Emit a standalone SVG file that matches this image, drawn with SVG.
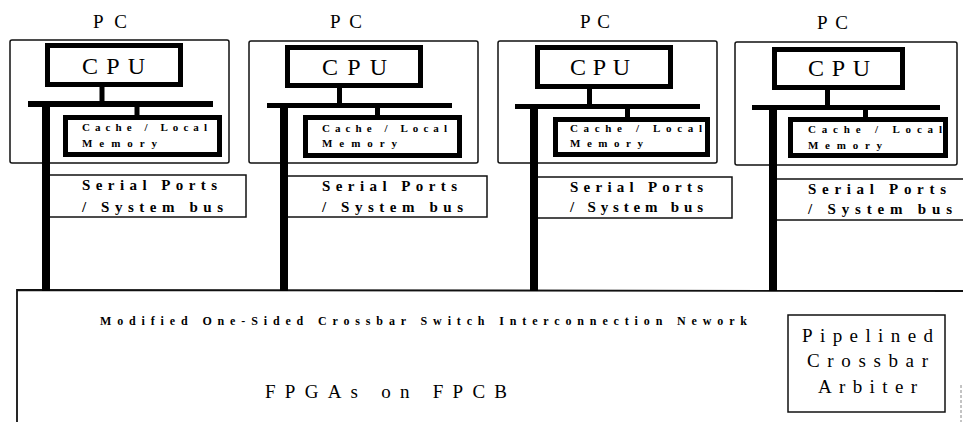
<svg xmlns="http://www.w3.org/2000/svg" width="963" height="422" viewBox="0 0 963 422">
  <style>
    .pcbox { fill: none; stroke: #111; stroke-width: 1.5; }
    .thick { fill: #fff; stroke: #000; stroke-width: 5; }
    .port { fill: #fff; stroke: #111; stroke-width: 1.5; }
    .bar { fill: #000; }
    .pc { font-family: "Liberation Serif", "Times New Roman", serif; font-size: 19px; fill: #000; }
    .cpu { font-family: "Liberation Serif", "Times New Roman", serif; font-size: 24px; fill: #000; }
    .mem { font-family: "Liberation Serif", "Times New Roman", serif; font-size: 11px; font-weight: bold; fill: #000; }
    .ser { font-family: "Liberation Serif", "Times New Roman", serif; font-size: 15px; font-weight: bold; fill: #000; }
    .net { font-family: "Liberation Serif", "Times New Roman", serif; font-size: 12px; font-weight: bold; fill: #000; }
    .big { font-family: "Liberation Serif", "Times New Roman", serif; font-size: 19px; fill: #000; }
  </style>
  <rect width="963" height="422" fill="#fff"/>

  <!-- FPGA board with the crossbar network -->
  <g id="fpga-board">
    <path d="M17,422 V290 L963,291" fill="none" stroke="#111" stroke-width="1.8"/>
    <line x1="961" y1="385" x2="961" y2="422" stroke="#888" stroke-width="1" stroke-dasharray="3,2"/>
    <text class="net" x="100" y="325" textLength="647" lengthAdjust="spacing">Modified One-Sided Crossbar Switch Interconnection Nework</text>
    <text class="big" x="265" y="398" textLength="242" lengthAdjust="spacing">FPGAs on FPCB</text>
  </g>

  <g id="arbiter">
    <rect x="788" y="315" width="157" height="97" fill="#fff" stroke="#111" stroke-width="1.5"/>
    <text class="big" x="802" y="342" textLength="131" lengthAdjust="spacing">Pipelined</text>
    <text class="big" x="807" y="367" textLength="121" lengthAdjust="spacing">Crossbar</text>
    <text class="big" x="818" y="393" textLength="99" lengthAdjust="spacing">Arbiter</text>
  </g>

  <!-- PC 1 -->
  <g id="pc1">
    <text class="pc" x="93" y="28" textLength="34" lengthAdjust="spacing">PC</text>
    <rect class="pcbox" x="10" y="40" width="219" height="123" rx="2"/>
    <rect class="thick" x="47.5" y="45.5" width="133" height="39"/>
    <text class="cpu" x="82" y="74" textLength="63" lengthAdjust="spacing">CPU</text>
    <rect class="thick" x="65.5" y="117.5" width="154" height="37"/>
    <text class="mem" x="82" y="131" textLength="125" lengthAdjust="spacing">Cache / Local</text>
    <text class="mem" x="82" y="147" textLength="75" lengthAdjust="spacing">Memory</text>
    <rect class="port" x="47" y="175" width="199" height="42"/>
    <text class="ser" x="82" y="190" textLength="135" lengthAdjust="spacing">Serial Ports</text>
    <text class="ser" x="82" y="212" textLength="141" lengthAdjust="spacing">/ System bus</text>
  </g>

  <!-- PC 2 -->
  <g id="pc2">
    <text class="pc" x="330" y="28" textLength="32" lengthAdjust="spacing">PC</text>
    <rect class="pcbox" x="249" y="41" width="229" height="122" rx="2"/>
    <rect class="thick" x="287.5" y="47.5" width="133" height="38"/>
    <text class="cpu" x="322" y="75" textLength="65" lengthAdjust="spacing">CPU</text>
    <rect class="thick" x="305.5" y="117.5" width="154" height="38"/>
    <text class="mem" x="322" y="132" textLength="125" lengthAdjust="spacing">Cache / Local</text>
    <text class="mem" x="322" y="147" textLength="75" lengthAdjust="spacing">Memory</text>
    <rect class="port" x="285" y="176" width="202" height="41"/>
    <text class="ser" x="322" y="191" textLength="135" lengthAdjust="spacing">Serial Ports</text>
    <text class="ser" x="322" y="212" textLength="141" lengthAdjust="spacing">/ System bus</text>
  </g>

  <!-- PC 3 -->
  <g id="pc3">
    <text class="pc" x="580" y="28" textLength="30" lengthAdjust="spacing">PC</text>
    <rect class="pcbox" x="498" y="41" width="219" height="122" rx="2"/>
    <rect class="thick" x="537.5" y="47.5" width="133" height="39"/>
    <text class="cpu" x="570" y="75" textLength="60" lengthAdjust="spacing">CPU</text>
    <rect class="thick" x="555.5" y="119.5" width="152" height="35"/>
    <text class="mem" x="570" y="132" textLength="132" lengthAdjust="spacing">Cache / Local</text>
    <text class="mem" x="570" y="147" textLength="73" lengthAdjust="spacing">Memory</text>
    <rect class="port" x="533" y="177" width="199" height="41"/>
    <text class="ser" x="570" y="192" textLength="133" lengthAdjust="spacing">Serial Ports</text>
    <text class="ser" x="570" y="212" textLength="133" lengthAdjust="spacing">/ System bus</text>
  </g>

  <!-- PC 4 -->
  <g id="pc4">
    <text class="pc" x="817" y="29" textLength="31" lengthAdjust="spacing">PC</text>
    <rect class="pcbox" x="735" y="42" width="222" height="123" rx="2"/>
    <rect class="thick" x="774.5" y="49.5" width="128" height="38"/>
    <text class="cpu" x="808" y="76" textLength="62" lengthAdjust="spacing">CPU</text>
    <rect class="thick" x="790.5" y="119.5" width="155" height="36"/>
    <text class="mem" x="808" y="133" textLength="134" lengthAdjust="spacing">Cache / Local</text>
    <text class="mem" x="808" y="149" textLength="74" lengthAdjust="spacing">Memory</text>
    <rect class="port" x="773" y="179" width="200" height="41"/>
    <text class="ser" x="808" y="194" textLength="138" lengthAdjust="spacing">Serial Ports</text>
    <text class="ser" x="808" y="214" textLength="144" lengthAdjust="spacing">/ System bus</text>
  </g>

  <!-- buses: CPU stub, memory bus, memory stub and the riser down to the board -->
  <g id="connectors">
    <rect class="bar" x="99.5" y="87" width="5" height="15"/>
    <rect class="bar" x="28" y="101" width="185" height="6"/>
    <rect class="bar" x="134.5" y="106" width="5" height="10"/>
    <rect class="bar" x="42" y="101" width="8" height="190"/>

    <rect class="bar" x="337" y="87" width="5" height="17"/>
    <rect class="bar" x="267" y="103" width="185" height="5"/>
    <rect class="bar" x="375" y="107" width="5" height="10"/>
    <rect class="bar" x="280" y="103" width="8" height="188"/>

    <rect class="bar" x="587" y="88" width="5" height="17"/>
    <rect class="bar" x="515" y="104" width="185" height="5"/>
    <rect class="bar" x="625" y="108" width="5" height="11"/>
    <rect class="bar" x="530" y="104" width="8" height="187"/>

    <rect class="bar" x="825" y="89" width="5" height="17"/>
    <rect class="bar" x="752" y="105" width="188" height="5"/>
    <rect class="bar" x="863" y="109" width="5" height="10"/>
    <rect class="bar" x="769" y="105" width="8" height="186"/>
  </g>
</svg>
